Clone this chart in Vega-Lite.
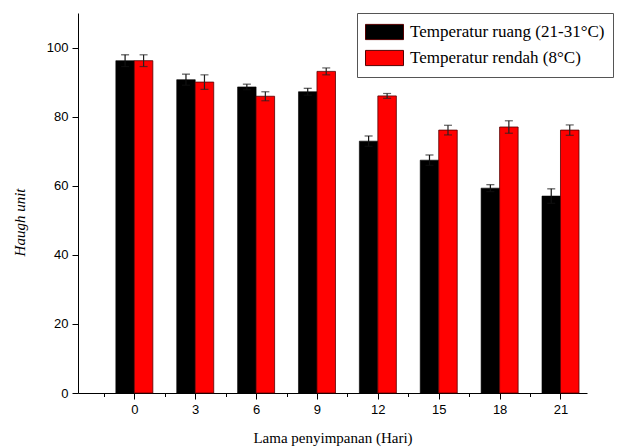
{
  "$schema": "https://vega.github.io/schema/vega-lite/v6.json",
  "width": 509,
  "height": 380,
  "autosize": "none",
  "padding": {"left": 78, "top": 13, "right": 32, "bottom": 55},
  "background": "#ffffff",
  "config": {"view": {"stroke": null}},
  "data": {"values": [
    {"day": 0, "group": "Temperatur ruang (21-31°C)", "mean": 96.2, "lo": 94.5, "hi": 97.9},
    {"day": 3, "group": "Temperatur ruang (21-31°C)", "mean": 90.7, "lo": 89.1, "hi": 92.3},
    {"day": 6, "group": "Temperatur ruang (21-31°C)", "mean": 88.6, "lo": 87.8, "hi": 89.4},
    {"day": 9, "group": "Temperatur ruang (21-31°C)", "mean": 87.2, "lo": 86.2, "hi": 88.2},
    {"day": 12, "group": "Temperatur ruang (21-31°C)", "mean": 72.9, "lo": 71.4, "hi": 74.4},
    {"day": 15, "group": "Temperatur ruang (21-31°C)", "mean": 67.4, "lo": 65.9, "hi": 68.9},
    {"day": 18, "group": "Temperatur ruang (21-31°C)", "mean": 59.3, "lo": 58.3, "hi": 60.3},
    {"day": 21, "group": "Temperatur ruang (21-31°C)", "mean": 57.0, "lo": 54.9, "hi": 59.1},
    {"day": 0, "group": "Temperatur rendah (8°C)", "mean": 96.2, "lo": 94.5, "hi": 97.9},
    {"day": 3, "group": "Temperatur rendah (8°C)", "mean": 90.0, "lo": 87.9, "hi": 92.1},
    {"day": 6, "group": "Temperatur rendah (8°C)", "mean": 85.9, "lo": 84.6, "hi": 87.2},
    {"day": 9, "group": "Temperatur rendah (8°C)", "mean": 93.1, "lo": 92.1, "hi": 94.1},
    {"day": 12, "group": "Temperatur rendah (8°C)", "mean": 86.0, "lo": 85.3, "hi": 86.7},
    {"day": 15, "group": "Temperatur rendah (8°C)", "mean": 76.1, "lo": 74.7, "hi": 77.5},
    {"day": 18, "group": "Temperatur rendah (8°C)", "mean": 77.0, "lo": 75.2, "hi": 78.8},
    {"day": 21, "group": "Temperatur rendah (8°C)", "mean": 76.1, "lo": 74.6, "hi": 77.6}
  ]},
  "encoding": {
    "x": {
      "field": "day", "type": "quantitative",
      "scale": {"domain": [-2.53, 22.06], "nice": false, "zero": false},
      "axis": {
        "title": "Lama penyimpanan (Hari)",
        "values": [-1.5, 0, 1.5, 3, 4.5, 6, 7.5, 9, 10.5, 12, 13.5, 15, 16.5, 18, 19.5, 21],
        "labelExpr": "datum.value % 3 === 0 ? datum.label : ''",
        "tickSize": {"condition": {"test": "datum.value % 3 === 0", "value": 6}, "value": 3.5},
        "grid": false,
        "domainColor": "#000", "tickColor": "#000", "domainWidth": 1, "tickWidth": 1,
        "labelFont": "Liberation Sans", "labelFontSize": 13, "labelColor": "#000", "labelPadding": 4,
        "labelFlush": false, "labelOverlap": false,
        "titleFont": "Liberation Serif", "titleFontSize": 15, "titleFontWeight": "normal", "titleColor": "#000",
        "titlePadding": 14
      }
    }
  },
  "layer": [
    {
      "transform": [{"filter": "datum.group === 'Temperatur ruang (21-31°C)'"}],
      "layer": [
        {
          "mark": {"type": "bar", "width": 18.5, "xOffset": -9.25, "stroke": "#000", "strokeWidth": 0.6},
          "encoding": {
            "y": {
              "field": "mean", "type": "quantitative",
              "scale": {"domain": [0, 110], "nice": false},
              "axis": {
                "title": "Haugh unit",
                "values": [0, 10, 20, 30, 40, 50, 60, 70, 80, 90, 100, 110],
                "labelExpr": "datum.value % 20 === 0 && datum.value <= 100 ? datum.label : ''",
                "tickSize": {"condition": {"test": "datum.value % 20 === 0", "value": 6}, "value": 3.5},
                "grid": false,
                "domainColor": "#000", "tickColor": "#000", "domainWidth": 1, "tickWidth": 1,
                "labelFont": "Liberation Sans", "labelFontSize": 13, "labelColor": "#000", "labelPadding": 4,
                "labelFlush": false, "labelOverlap": false,
                "titleFont": "Liberation Serif", "titleFontSize": 15, "titleFontStyle": "italic",
                "titleFontWeight": "normal", "titleColor": "#000",
                "titleX": -51, "titleY": 209
              }
            },
            "color": {
              "field": "group", "type": "nominal",
              "scale": {"domain": ["Temperatur ruang (21-31°C)", "Temperatur rendah (8°C)"], "range": ["#000000", "#ff0000"]},
              "legend": {
                "title": null,
                "orient": "none", "legendX": 279, "legendY": 0,
                "symbolType": "M-1,-0.4H1V0.4H-1Z",
                "symbolSize": 1444,
                "symbolStrokeColor": "#222",
                "symbolStrokeWidth": 1,
                "clipHeight": 22,
                "rowPadding": 4,
                "labelOffset": 6,
                "labelFont": "Liberation Serif", "labelFontSize": 17, "labelColor": "#000",
                "labelLimit": 400,
                "padding": 8,
                "strokeColor": "#555",
                "fillColor": "#ffffff"
              }
            }
          }
        },
        {
          "mark": {"type": "rule", "xOffset": -9.25, "color": "#111", "strokeWidth": 1.2},
          "encoding": {"y": {"field": "lo", "type": "quantitative"}, "y2": {"field": "hi"}}
        },
        {
          "mark": {"type": "tick", "orient": "horizontal", "xOffset": -9.25, "color": "#111", "size": 8, "thickness": 1.2},
          "encoding": {"y": {"field": "hi", "type": "quantitative"}}
        },
        {
          "mark": {"type": "tick", "orient": "horizontal", "xOffset": -9.25, "color": "#111", "size": 8, "thickness": 1.2},
          "encoding": {"y": {"field": "lo", "type": "quantitative"}}
        }
      ]
    },
    {
      "transform": [{"filter": "datum.group === 'Temperatur rendah (8°C)'"}],
      "layer": [
        {
          "mark": {"type": "bar", "width": 18.5, "xOffset": 9.25, "stroke": "#500", "strokeWidth": 0.8},
          "encoding": {
            "y": {"field": "mean", "type": "quantitative"},
            "color": {"field": "group", "type": "nominal"}
          }
        },
        {
          "mark": {"type": "rule", "xOffset": 9.25, "color": "#222", "strokeWidth": 1.2},
          "encoding": {"y": {"field": "lo", "type": "quantitative"}, "y2": {"field": "hi"}}
        },
        {
          "mark": {"type": "tick", "orient": "horizontal", "xOffset": 9.25, "color": "#222", "size": 8, "thickness": 1.2},
          "encoding": {"y": {"field": "hi", "type": "quantitative"}}
        },
        {
          "mark": {"type": "tick", "orient": "horizontal", "xOffset": 9.25, "color": "#222", "size": 8, "thickness": 1.2},
          "encoding": {"y": {"field": "lo", "type": "quantitative"}}
        }
      ]
    }
  ]
}
